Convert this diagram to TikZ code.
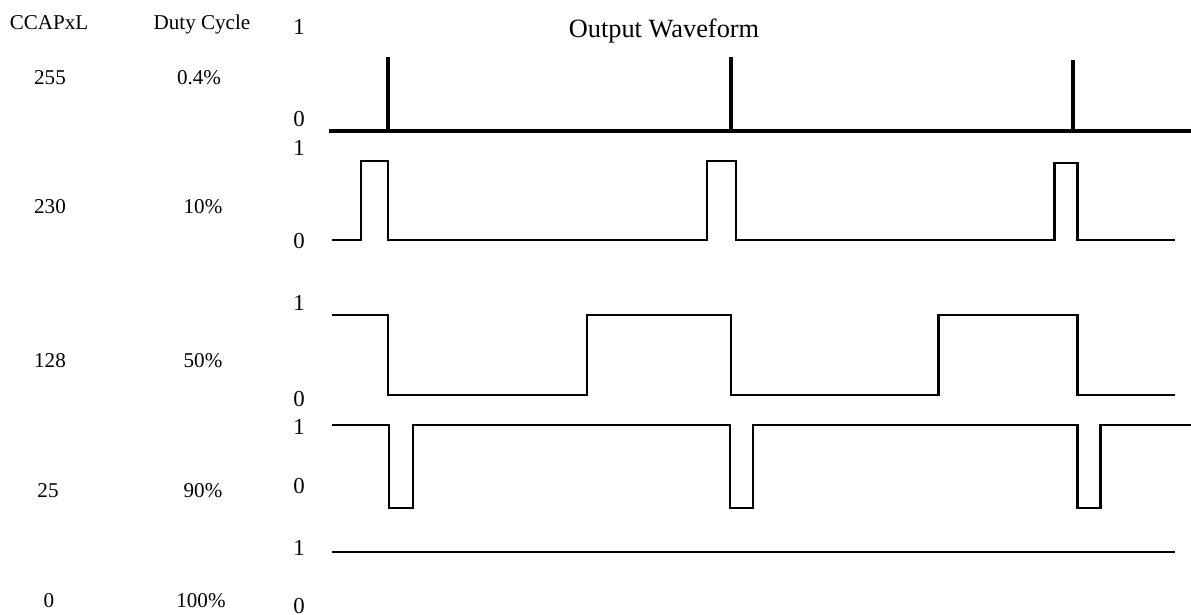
\documentclass[tikz,border=0pt]{standalone}
\usepackage{fontspec}
\setmainfont{Liberation Serif}
\usetikzlibrary{positioning}
\tikzset{
  wavepath/.style={draw=black, line width=#1, line join=miter, line cap=butt},
  wavepath/.default=1.7pt,
  levelnode/.style={font=\fontsize{13}{15}\selectfont, inner sep=0pt, anchor=base},
  labelnode/.style={font=\fontsize{12}{14}\selectfont, inner sep=0pt, anchor=base},
  titlenode/.style={font=\fontsize{15}{17}\selectfont, inner sep=0pt, anchor=base}
}
\begin{document}
\begin{tikzpicture}[x=0.02cm, y=-0.02cm]
  \useasboundingbox (0,0) rectangle (1191,615);

  % Headings
  \node[labelnode] (hcap) at (49,30) {CCAPxL};
  \node[labelnode] (hduty) at (202,30) {Duty Cycle};
  \node[titlenode] (title) at (664,38) {Output Waveform};

  % CCAPxL / duty cycle values
  \node[labelnode] (cap255) at (50,85) {255};
  \node[labelnode] (dc255) at (199,85) {0.4\%};
  \node[labelnode] (cap230) at (50,214) {230};
  \node[labelnode] (dc230) at (203,214) {10\%};
  \node[labelnode] (cap128) at (50,367) {128};
  \node[labelnode] (dc128) at (203,367) {50\%};
  \node[labelnode] (cap25) at (48,497) {25};
  \node[labelnode] (dc25) at (203,497) {90\%};
  \node[labelnode] (cap0) at (49,607) {0};
  \node[labelnode] (dc0) at (201,607) {100\%};

  % Logic levels
  \foreach \hi/\lo [count=\i] in {35/127, 155/249, 310/406, 434/493, 555/613} {
    \node[levelnode] (one\i) at (299,\hi) {1};
    \node[levelnode] (zero\i) at (299,\lo) {0};
  }

  % 0.4%
  \draw[wavepath=2pt] (329,131) -- (1191,131);
  \foreach \x/\t in {388/57, 731/57, 1073/60}
    \draw[wavepath=2pt] (\x,131) -- (\x,\t);

  % 10%
  \draw[wavepath] (332,240) -| (361,161) -| (388,240) -| (707,161) -| (736,240)
    -| (1054,163) -| (1077,240) -- (1175,240);

  % 50%
  \draw[wavepath] (332,315) -| (388,395) -| (587,315) -| (731,395) -| (938,315)
    -| (1077,395) -- (1175,395);

  % 90%
  \draw[wavepath] (332,425) -| (389,508) -| (413,425) -| (730,508) -| (753,425)
    -| (1077,508) -| (1100,425) -- (1191,425);

  % 100%
  \draw[wavepath] (332,552) -- (1175,552);
\end{tikzpicture}
\end{document}
